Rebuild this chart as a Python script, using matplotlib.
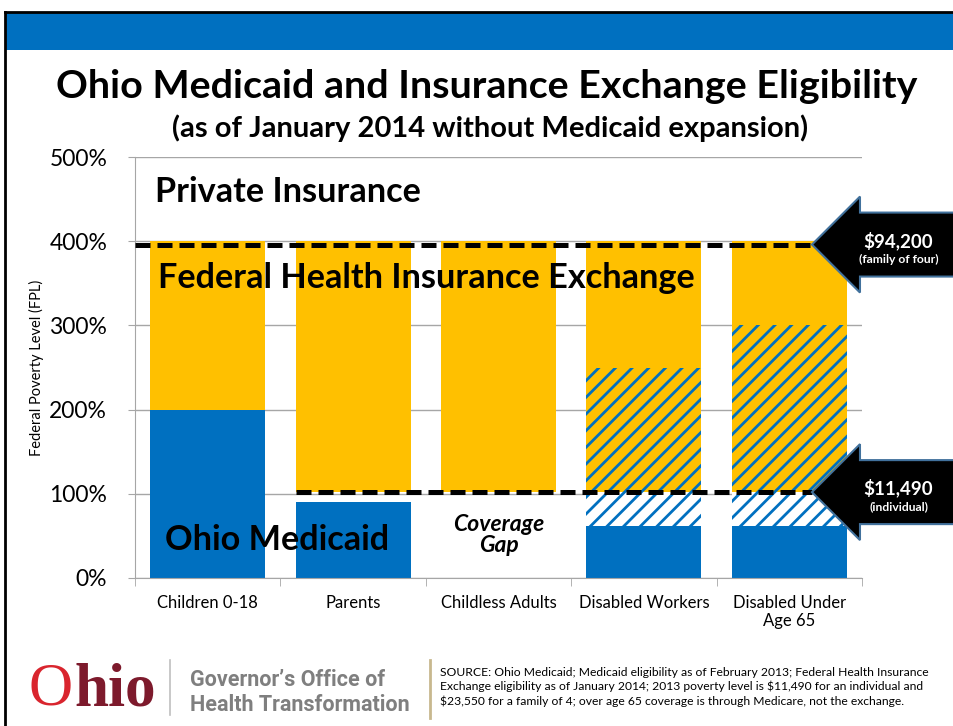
import numpy as np
import matplotlib.pyplot as plt
from matplotlib.patches import Polygon, Rectangle
from matplotlib.lines import Line2D
from matplotlib.transforms import IdentityTransform

plt.rcParams['font.family'] = ['Lato', 'DejaVu Sans']
plt.rcParams['hatch.linewidth'] = 2.0

# данные
categories = ['Children 0-18', 'Parents', 'Childless Adults', 'Disabled Workers', 'Disabled Under\nAge 65']
medicaid_top = np.array([200, 90, 0, 62, 62])
spend_down_top = np.array([200, 90, 0, 102, 102])
exchange_bottom = np.array([200, 102, 102, 102, 102])
overlap_top = np.array([200, 102, 102, 250, 300])
exchange_top = np.array([400, 400, 400, 400, 400])
yticks = [0, 100, 200, 300, 400, 500]
family_level = 396
individual_level = 102

W, H = 954, 726
blue = '#0070C0'
yellow = '#FFC000'
grid_gray = '#A6A6A6'


def fig_xy(x, y):
    # пиксели от левого верхнего угла -> доли фигуры
    return x / W, 1 - y / H


fig = plt.figure(figsize=(W / 100, H / 100), dpi=100)
ax = fig.add_axes([135 / W, 1 - 578 / H, 727 / W, 421 / H])

x = np.arange(len(categories))
width = 0.79
ax.bar(x, medicaid_top, width, color=blue, zorder=2)
ax.bar(x, spend_down_top - medicaid_top, width, bottom=medicaid_top,
       facecolor='white', edgecolor=blue, hatch='//', linewidth=0, zorder=2)
ax.bar(x, overlap_top - exchange_bottom, width, bottom=exchange_bottom,
       facecolor=yellow, edgecolor=blue, hatch='//', linewidth=0, zorder=2)
ax.bar(x, exchange_top - overlap_top, width, bottom=overlap_top, color=yellow, zorder=2)

ax.set_xlim(-0.5, 4.5)
ax.set_ylim(0, 500)
ax.set_axisbelow(True)
ax.yaxis.grid(True, color=grid_gray, lw=1)
for s in ['top', 'right']:
    ax.spines[s].set_visible(False)
for s in ['left', 'bottom']:
    ax.spines[s].set_color(grid_gray)

ax.set_yticks(yticks)
ax.set_yticklabels([f'{v}%' for v in yticks], fontsize=16.5)
ax.tick_params(axis='y', color=grid_gray, length=5, pad=15)
ax.set_xticks(x)
ax.set_xticklabels(categories, fontsize=12)
ax.tick_params(axis='x', which='major', length=0, pad=12)
ax.set_xticks(np.arange(-0.5, 5, 1), minor=True)
ax.tick_params(axis='x', which='minor', length=6, color=grid_gray)
ax.set_ylabel('Federal Poverty Level (FPL)', fontsize=10.5)
ax.yaxis.set_label_coords(-0.125, 0.5)

# пунктирные линии
tip_x = 4.156
ax.plot([-0.5, tip_x], [family_level, family_level], color='black', lw=3.6,
        dashes=(3, 1.4), zorder=4, clip_on=False)
ax.plot([1 - width / 2, tip_x], [individual_level, individual_level], color='black', lw=3.6,
        dashes=(3, 1.4), zorder=4, clip_on=False)

# надписи внутри графика
ax.text(-0.362, 458, 'Private Insurance', fontsize=24.7, fontweight='bold', va='center', zorder=5)
ax.text(-0.342, 356, 'Federal Health Insurance Exchange', fontsize=24.7, fontweight='bold', va='center', zorder=5)
ax.text(-0.294, 45, 'Ohio Medicaid', fontsize=24.7, fontweight='bold', va='center', zorder=5)
ax.text(2, 51, 'Coverage\nGap', fontsize=16.5, fontweight='bold', fontstyle='italic',
        ha='center', va='center', linespacing=1.05, zorder=5)

# стрелки
arrows = [(family_level, '$94,200', '(family of four)'),
          (individual_level, '$11,490', '(individual)')]
for level, big, small in arrows:
    tx, ty = ax.transData.transform((tip_x, level))
    pts = [(tx, ty), (tx + 48, ty + 48), (tx + 48, ty + 32), (W + 10, ty + 32),
           (W + 10, ty - 32), (tx + 48, ty - 32), (tx + 48, ty - 48)]
    fig.add_artist(Polygon(pts, closed=True, facecolor='black', edgecolor='#41719C',
                           lw=1.5, transform=IdentityTransform(), zorder=6))
    fig.text((tx + 86) / W, (ty + 4) / H, big, color='white', fontsize=13.5, fontweight='bold',
             ha='center', va='center', zorder=7)
    fig.text((tx + 87) / W, (ty - 15) / H, small, color='white', fontsize=8.7, fontweight='bold',
             ha='center', va='center', zorder=7)

# рамка и шапка
fig.add_artist(Rectangle(fig_xy(5, 50), (W - 5) / W, 37 / H, facecolor=blue, edgecolor='none'))
fig.add_artist(Line2D([5 / W, 1], [1 - 12 / H, 1 - 12 / H], color='black', lw=2))
fig.add_artist(Line2D([5 / W, 5 / W], [0, 1 - 12 / H], color='black', lw=2))

fig.text(*fig_xy(487, 86), 'Ohio Medicaid and Insurance Exchange Eligibility',
         fontsize=28.4, fontweight='bold', ha='center', va='center')
fig.text(*fig_xy(490, 128), '(as of January 2014 without Medicaid expansion)',
         fontsize=21, fontweight='bold', ha='center', va='center')

# подвал
fig.text(*fig_xy(29, 690), 'O', family='Liberation Serif', fontsize=44,
         color='#D9252E', va='center')
fig.text(*fig_xy(74, 690), 'hio', family='Liberation Serif', fontsize=44, fontweight='bold',
         color='#7D1A2C', va='center')
fig.add_artist(Line2D([170 / W, 170 / W], [1 - 715 / H, 1 - 660 / H], color='#BFBFBF', lw=1.2))
fig.text(*fig_xy(190, 680), "Governor\u2019s Office of", fontsize=15.5, fontweight='bold',
         color='#7F7F7F', va='center', family='Roboto')
fig.text(*fig_xy(190, 705), 'Health Transformation', fontsize=15.5, fontweight='bold',
         color='#7F7F7F', va='center', family='Roboto')
fig.add_artist(Line2D([430 / W, 430 / W], [1 - 718 / H, 1 - 660 / H], color='#C8B88E', lw=2))
fig.text(*fig_xy(440, 687),
         'SOURCE: Ohio Medicaid; Medicaid eligibility as of February 2013; Federal Health Insurance\n'
         'Exchange eligibility as of January 2014; 2013 poverty level is $11,490 for an individual and\n'
         '$23,550 for a family of 4; over age 65 coverage is through Medicare, not the exchange.',
         fontsize=8.7, va='center', linespacing=1.3)

fig.savefig('out.png', dpi=100)
